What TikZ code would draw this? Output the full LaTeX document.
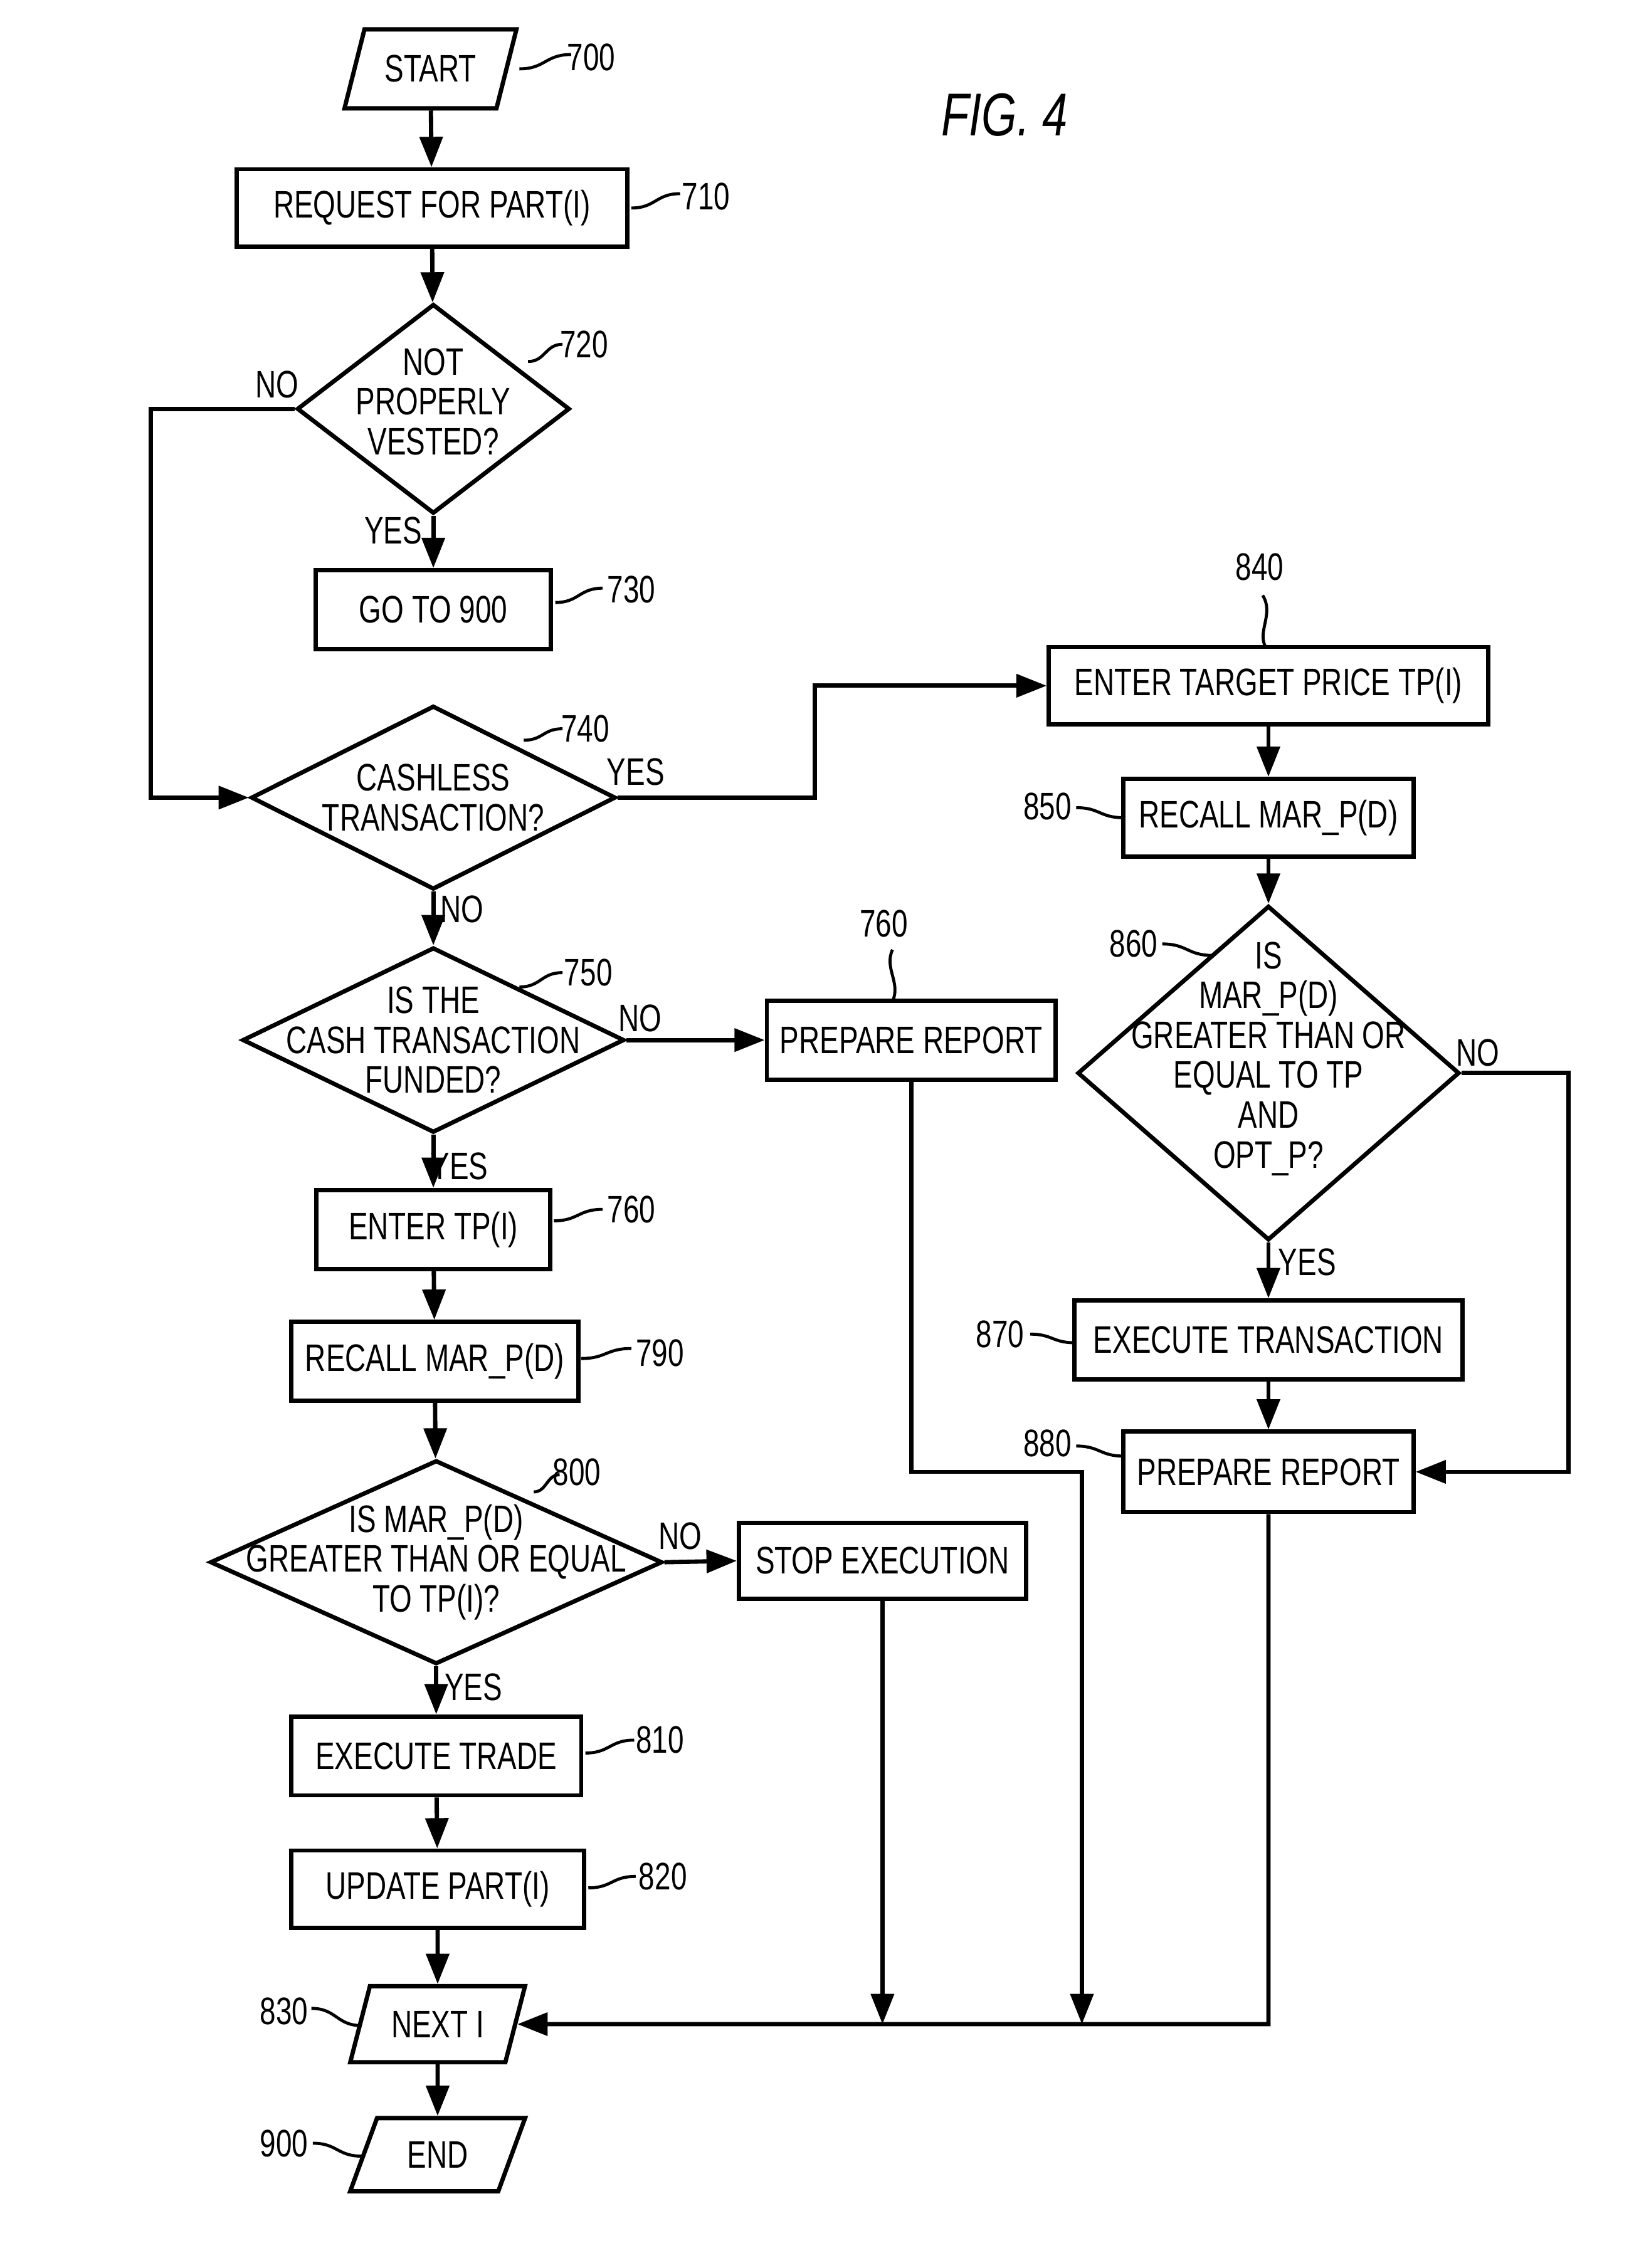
\documentclass[tikz,border=0pt]{standalone}
\usepackage{fontspec}
\setmainfont{Liberation Sans}[FakeStretch=0.75]
\usetikzlibrary{shapes.geometric,arrows.meta}
\begin{document}
\begin{tikzpicture}[x=0.01cm,y=-0.01cm,line width=0.85pt,
  font=\fontsize{7.6}{8}\selectfont,
  box/.style={draw,rectangle,inner sep=0pt,align=center},
  dia/.style={draw,diamond,inner sep=0pt},
  io/.style={draw,trapezium,trapezium left angle=63,trapezium right angle=117,trapezium stretches=true,inner sep=0pt},
  txt/.style={align=center,inner sep=0pt,font=\fontsize{7.6}{7.9}\selectfont},
  arr/.style={-{Triangle[length=6pt,width=4.5pt]}},
  lab/.style={inner sep=1pt},
  ld/.style={line width=0.6pt}]
\useasboundingbox (0,0) rectangle (1135,1581);
\newcommand{\lead}[4]{\draw[ld] (#1,#2) .. controls ({(#1+#3)/2},#2) and ({(#1+#3)/2},#4) .. (#3,#4);}
% left column
\node[io,minimum width=1.2cm,minimum height=0.55cm] (s) at (300,48) {START};
\node[box,minimum width=2.72cm,minimum height=0.54cm] (b710) at (301,145) {REQUEST FOR PART(I)};
\node[dia,minimum width=1.9cm,minimum height=1.46cm] (d720) at (302,285) {};
\node[txt] at (302,280) {NOT\\PROPERLY\\VESTED?};
\node[box,minimum width=1.64cm,minimum height=0.55cm] (b730) at (302,425) {GO TO 900};
\node[dia,minimum width=2.54cm,minimum height=1.28cm] (d740) at (302,556) {};
\node[txt] at (302,556) {CASHLESS\\TRANSACTION?};
\node[dia,minimum width=2.66cm,minimum height=1.29cm] (d750) at (302,725) {};
\node[txt] at (302,725) {IS THE\\CASH TRANSACTION\\FUNDED?};
\node[box,minimum width=2.01cm,minimum height=0.55cm] (b760) at (635,725) {PREPARE REPORT};
\node[box,minimum width=1.63cm,minimum height=0.55cm] (b765) at (302,857) {ENTER TP(I)};
\node[box,minimum width=2.0cm,minimum height=0.55cm] (b790) at (303,949) {RECALL MAR\_P(D)};
\node[dia,minimum width=3.15cm,minimum height=1.42cm] (d800) at (304,1089) {};
\node[txt] at (304,1089) {IS MAR\_P(D)\\GREATER THAN OR EQUAL\\TO TP(I)?};
\node[box,minimum width=2.0cm,minimum height=0.53cm] (b805) at (615,1088) {STOP EXECUTION};
\node[box,minimum width=2.02cm,minimum height=0.55cm] (b810) at (304,1224) {EXECUTE TRADE};
\node[box,minimum width=2.04cm,minimum height=0.54cm] (b820) at (305,1317) {UPDATE PART(I)};
\node[io,minimum width=1.22cm,minimum height=0.53cm] (n830) at (305,1411) {NEXT I};
\node[io,minimum width=1.22cm,minimum height=0.51cm] (n900) at (305,1502) {END};
% right column
\node[box,minimum width=3.06cm,minimum height=0.54cm] (b840) at (884,478) {ENTER TARGET PRICE TP(I)};
\node[box,minimum width=2.02cm,minimum height=0.54cm] (b850) at (884,570) {RECALL MAR\_P(D)};
\node[dia,minimum width=2.66cm,minimum height=2.33cm] (d860) at (884,748) {};
\node[txt] at (884,738) {IS\\MAR\_P(D)\\GREATER THAN OR\\EQUAL TO TP\\AND\\OPT\_P?};
\node[box,minimum width=2.7cm,minimum height=0.55cm] (b870) at (884,934) {EXECUTE TRANSACTION};
\node[box,minimum width=2.02cm,minimum height=0.56cm] (b880) at (884,1026) {PREPARE REPORT};
\node[font=\fontsize{12}{12}\selectfont\itshape] (fig) at (700,80) {FIG. 4};
% coordinates
\coordinate (c1) at (105,285);
\coordinate (c2) at (105,556);
\coordinate (c3) at (568,556);
\coordinate (c4) at (568,478);
\coordinate (c5) at (1093,748);
\coordinate (c6) at (1093,1026);
\coordinate (c7) at (635,1026);
\coordinate (c8) at (754,1026);
\coordinate (j1) at (615,1411);
\coordinate (j2) at (754,1411);
\coordinate (j3) at (884,1411);
% connectors
\draw[arr] (s) -- (b710);
\draw[arr] (b710) -- (d720);
\draw[arr] (d720) -- (b730);
\draw[arr] (d720.west) -- (c1) -- (c2) -- (d740.west);
\draw[arr] (d740.east) -- (c3) -- (c4) -- (b840.west);
\draw[arr] (d740) -- (d750);
\draw[arr] (d750.east) -- (b760.west);
\draw[arr] (d750) -- (b765);
\draw[arr] (b765) -- (b790);
\draw[arr] (b790) -- (d800);
\draw[arr] (d800.east) -- (b805.west);
\draw[arr] (d800) -- (b810);
\draw[arr] (b810) -- (b820);
\draw[arr] (b820) -- (n830);
\draw[arr] (n830) -- (n900);
\draw[arr] (b840) -- (b850);
\draw[arr] (b850) -- (d860);
\draw[arr] (d860) -- (b870);
\draw[arr] (b870) -- (b880);
\draw[arr] (d860.east) -- (c5) -- (c6) -- (b880.east);
\draw[arr] (b760.south) -- (c7) -- (c8) -- (j2);
\draw[arr] (b805.south) -- (j1);
\draw[arr] (b880.south) -- (j3) -- (n830.east);
% edge labels
\node[lab] at (193,268) {NO};
\node[lab] at (274,370) {YES};
\node[lab] at (443,538) {YES};
\node[lab] at (322,634) {NO};
\node[lab] at (446,710) {NO};
\node[lab] at (320,813) {YES};
\node[lab] at (474,1071) {NO};
\node[lab] at (330,1176) {YES};
\node[lab] at (911,880) {YES};
\node[lab] at (1030,734) {NO};
% reference numbers
\node[lab] at (412,40) {700}; \lead{362}{48}{398}{38}
\node[lab] at (492,137) {710}; \lead{440}{145}{474}{135}
\node[lab] at (407,240) {720}; \lead{368}{252}{392}{240}
\node[lab] at (440,411) {730}; \lead{387}{420}{420}{410}
\node[lab] at (408,508) {740}; \lead{365}{516}{392}{508}
\node[lab] at (410,678) {750}; \lead{362}{688}{392}{678}
\node[lab] at (616,644) {760}; \draw[ld] (622,662) .. controls (616,675) and (628,685) .. (622,698);
\node[lab] at (440,843) {760}; \lead{386}{851}{420}{843}
\node[lab] at (460,943) {790}; \lead{405}{947}{440}{940}
\node[lab] at (402,1026) {800}; \lead{372}{1040}{390}{1028}
\node[lab] at (460,1213) {810}; \lead{408}{1222}{442}{1213}
\node[lab] at (462,1308) {820}; \lead{410}{1316}{443}{1308}
\node[lab] at (198,1402) {830}; \lead{217}{1400}{252}{1412}
\node[lab] at (198,1494) {900}; \lead{218}{1494}{252}{1503}
\node[lab] at (878,395) {840}; \draw[ld] (880,415) .. controls (888,428) and (876,440) .. (882,451);
\node[lab] at (730,562) {850}; \lead{750}{563}{783}{570}
\node[lab] at (790,658) {860}; \lead{810}{658}{845}{666}
\node[lab] at (697,930) {870}; \lead{718}{930}{749}{936}
\node[lab] at (730,1006) {880}; \lead{750}{1008}{783}{1015}
\end{tikzpicture}
\end{document}
